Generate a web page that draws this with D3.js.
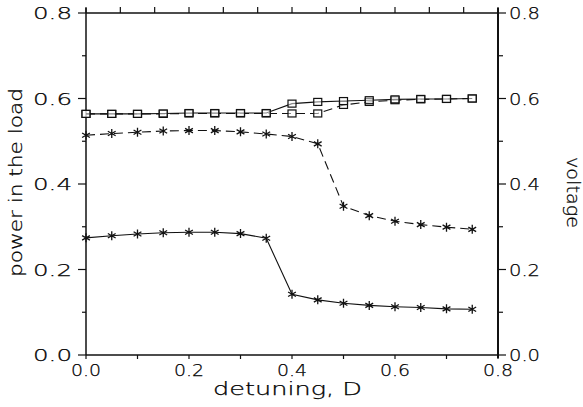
<!DOCTYPE html>
<html><head><meta charset="utf-8">
<script src="https://cdn.jsdelivr.net/npm/d3@7"></script>
<style>
html,body{margin:0;padding:0;background:#fff;}
text{font-family:"DejaVu Sans",sans-serif;font-weight:200;fill:#000;stroke:#000;stroke-width:0.25;}
</style></head>
<body><svg id="c" width="583" height="407"></svg>
<script>
const xValues = [0,0.05,0.1,0.15,0.2,0.25,0.3,0.35,0.4,0.45,0.5,0.55,0.6,0.65,0.7,0.75];
const voltageSolid  = [0.564,0.564,0.564,0.565,0.566,0.566,0.566,0.566,0.588,0.592,0.594,0.596,0.598,0.599,0.599,0.600];
const voltageDashed = [0.564,0.564,0.564,0.564,0.565,0.565,0.565,0.565,0.565,0.565,0.585,0.592,0.596,0.598,0.599,0.600];
const powerDashed   = [0.514,0.518,0.521,0.524,0.525,0.525,0.522,0.517,0.511,0.494,0.348,0.326,0.313,0.305,0.299,0.294];
const powerSolid    = [0.274,0.279,0.283,0.286,0.287,0.287,0.284,0.273,0.142,0.129,0.121,0.116,0.113,0.111,0.108,0.107];
const xTicks = [0,0.2,0.4,0.6,0.8];
const yTicks = [0,0.2,0.4,0.6,0.8];
const xLabel = "detuning,  D";
const yLabelLeft = "power in the load";
const yLabelRight = "voltage";

const svg = d3.select("#c");
const L=86,R=498,T=13,B=355;
const x = d3.scaleLinear().domain([0,0.8]).range([L,R]);
const y = d3.scaleLinear().domain([0,0.8]).range([B,T]);
const ink="#111";

const g = svg.append("g");
g.append("line").attr("x1",L).attr("x2",R).attr("y1",B).attr("y2",B).attr("stroke",ink).attr("stroke-width",1.5);
g.append("line").attr("x1",L).attr("x2",R).attr("y1",T).attr("y2",T).attr("stroke",ink).attr("stroke-width",1.5);
g.append("line").attr("x1",L).attr("x2",L).attr("y1",T-5).attr("y2",B).attr("stroke",ink).attr("stroke-width",1.5);
g.append("line").attr("x1",R).attr("x2",R).attr("y1",T-5).attr("y2",B+3).attr("stroke",ink).attr("stroke-width",2);

d3.range(0,9).forEach(i=>{const v=i*0.1;
  g.append("line").attr("x1",x(v)).attr("x2",x(v)).attr("y1",B).attr("y2",B+4).attr("stroke",ink).attr("stroke-width",1.2);});
d3.range(0,13).forEach(i=>{const v=i*0.8/12;
  g.append("line").attr("x1",x(v)).attr("x2",x(v)).attr("y1",T).attr("y2",T-6).attr("stroke",ink).attr("stroke-width",1.2);});
d3.range(0,9).forEach(i=>{const v=i*0.1, major=i%2===0;
  g.append("line").attr("x1",L).attr("x2",L-(major?8:4)).attr("y1",y(v)).attr("y2",y(v)).attr("stroke",ink).attr("stroke-width",1.2);
  g.append("line").attr("x1",R).attr("x2",R+(major?8:5)).attr("y1",y(v)).attr("y2",y(v)).attr("stroke",ink).attr("stroke-width",1.2);});

const fs=16;
xTicks.forEach(v=>g.append("text").attr("x",x(v)-15).attr("y",B+21).attr("font-size",fs)
  .attr("textLength",30).attr("lengthAdjust","spacingAndGlyphs").text(v.toFixed(1)));
yTicks.forEach(v=>{
  g.append("text").attr("x",33).attr("y",y(v)+6).attr("font-size",fs)
    .attr("textLength",39).attr("lengthAdjust","spacingAndGlyphs").text(v.toFixed(1));
  g.append("text").attr("x",509).attr("y",y(v)+6).attr("font-size",fs)
    .attr("textLength",31).attr("lengthAdjust","spacingAndGlyphs").text(v.toFixed(1));
});
g.append("text").attr("x",213).attr("y",395).attr("font-size",17)
  .attr("textLength",149).attr("lengthAdjust","spacingAndGlyphs").text(xLabel);
g.append("text").attr("transform","translate(22,277) rotate(-90)").attr("font-size",17)
  .attr("textLength",189).attr("lengthAdjust","spacingAndGlyphs").text(yLabelLeft);
g.append("text").attr("transform","translate(567,157) rotate(90)").attr("font-size",17)
  .attr("textLength",71).attr("lengthAdjust","spacingAndGlyphs").text(yLabelRight);

const series = [
  {vals:powerSolid, dash:null, marker:"star"},
  {vals:powerDashed, dash:"9,5", marker:"star"},
  {vals:voltageDashed, dash:"9,5", marker:"square"},
  {vals:voltageSolid, dash:null, marker:"square"},
];
const line = d3.line().x(d=>x(d[0])).y(d=>y(d[1]));
series.forEach(s=>{
  const pts = xValues.map((v,i)=>[v,s.vals[i]]);
  svg.append("path").attr("d",line(pts)).attr("fill","none").attr("stroke",ink).attr("stroke-width",1.1)
     .attr("stroke-dasharray",s.dash);
  pts.forEach(p=>{
    const cx=x(p[0]), cy=y(p[1]);
    if(s.marker==="square"){
      svg.append("rect").attr("x",cx-4).attr("y",cy-3.5).attr("width",8).attr("height",7)
        .attr("fill","#fff").attr("fill-opacity",0.5).attr("stroke",ink).attr("stroke-width",1.2);
    } else {
      const r=4.5, a=Math.PI/6;
      const d=`M${cx},${cy-r}L${cx},${cy+r}`+
        `M${cx-r*Math.cos(a)},${cy-r*Math.sin(a)}L${cx+r*Math.cos(a)},${cy+r*Math.sin(a)}`+
        `M${cx-r*Math.cos(a)},${cy+r*Math.sin(a)}L${cx+r*Math.cos(a)},${cy-r*Math.sin(a)}`;
      svg.append("path").attr("d",d).attr("stroke",ink).attr("stroke-width",1.3).attr("fill","none");
    }
  });
});
</script></body></html>
